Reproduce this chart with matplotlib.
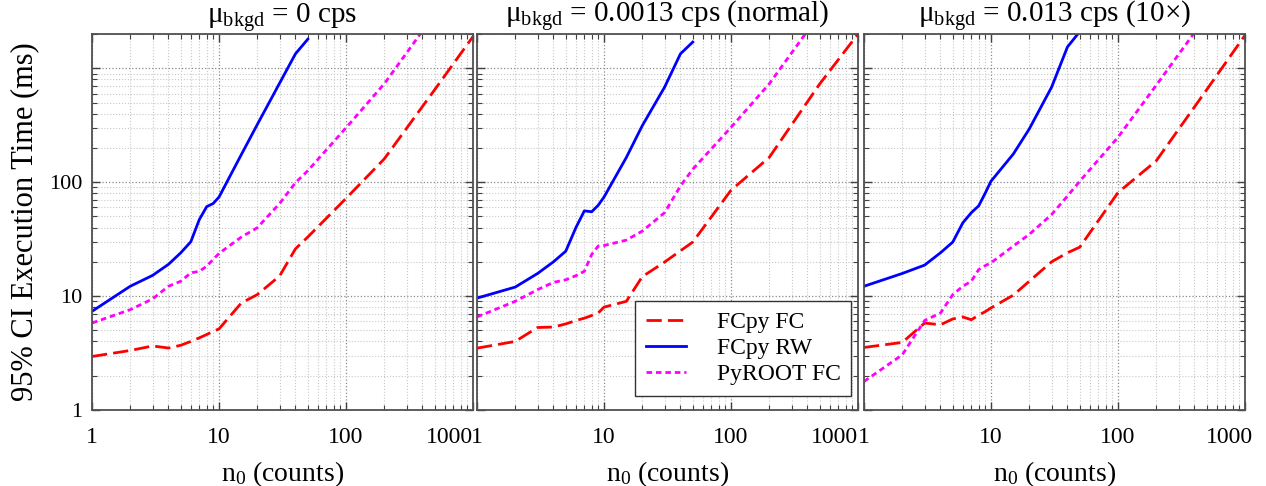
import matplotlib
matplotlib.use("Agg")
import matplotlib.pyplot as plt
from matplotlib.ticker import FixedLocator, FixedFormatter, LogLocator, NullFormatter
from matplotlib.transforms import ScaledTranslation

plt.rcParams["font.family"] = "Liberation Serif"
plt.rcParams["mathtext.fontset"] = "custom"
plt.rcParams["mathtext.rm"] = "Liberation Serif"
plt.rcParams["mathtext.it"] = "Liberation Serif:italic"

# counts n0 at which the CI was computed
n0 = [1, 2, 3, 4, 5, 6, 7, 8, 9, 10, 15, 20, 30, 40, 50, 100, 200, 500, 1000]
n0_rw = n0[:15]      # FCpy RW stops at 50
n0_root = n0[:18]    # PyROOT FC stops at 500

# execution times (ms), background = 0 cps
fc_0 = [2.95, 3.33, 3.65, 3.5, 3.7, 4.0, 4.3, 4.6, 4.9, 5.15, 8.7, 10.3, 15.0, 26.0, 33.0, 72, 160, 650, 1900]
rw_0 = [7.35, 12.2, 15.2, 19.0, 24.0, 30.0, 47.0, 61.0, 65.0, 74.0, 175, 320, 740, 1340, 1800]
root_0 = [5.8, 7.6, 9.45, 12.2, 13.5, 16.0, 16.5, 18.3, 21.0, 23.7, 33.0, 39.8, 65.0, 99.0, 126, 300, 730, 3000]

# background = 0.0013 cps (normal)
fc_1 = [3.49, 4.0, 5.3, 5.35, 5.7, 6.1, 6.4, 6.75, 7.1, 8.0, 9.0, 14.8, 19.9, 25.0, 29.8, 85, 165, 730, 2000]
rw_1 = [9.6, 12.0, 15.8, 20.0, 24.8, 39.8, 56.0, 55.0, 62.7, 74.0, 165, 313, 683, 1340, 1700]
root_1 = [6.56, 9.0, 11.4, 13.2, 13.9, 15.1, 16.5, 23.2, 27.5, 27.8, 31.0, 37.2, 54.0, 92.7, 130, 303, 730, 3000]

# background = 0.013 cps (10x)
fc_2 = [3.54, 3.92, 5.8, 5.6, 6.3, 6.56, 6.2, 6.8, 7.3, 7.87, 10.2, 13.5, 20.0, 24.0, 26.9, 81, 154, 650, 1950]
rw_2 = [12.2, 15.8, 18.7, 24.0, 29.8, 44.0, 54.0, 62.0, 80.0, 102, 177, 293, 683, 1540, 2100]
root_2 = [1.78, 3.05, 6.1, 7.1, 10.3, 12.2, 13.5, 17.1, 18.5, 19.6, 27.5, 34.8, 52.0, 75.6, 102, 248, 710, 2900]

titles = [r"μ$_{\mathrm{bkgd}}$ = 0 cps",
          r"μ$_{\mathrm{bkgd}}$ = 0.0013 cps (normal)",
          r"μ$_{\mathrm{bkgd}}$ = 0.013 cps (10×)"]
panels = [(fc_0, rw_0, root_0), (fc_1, rw_1, root_1), (fc_2, rw_2, root_2)]

fig = plt.figure(figsize=(12.66, 4.86), dpi=100)
lefts = [92, 477, 864]
axes = []
for i, lx in enumerate(lefts):
    sharey = axes[0] if axes else None
    ax = fig.add_axes([lx / 1266, 1 - 410 / 486, 381 / 1266, 376 / 486], sharey=sharey)
    axes.append(ax)

for i, ax in enumerate(axes):
    fc, rw, root = panels[i]
    ax.plot(n0, fc, color="#ff0000", lw=2, linestyle=(0, (5.5, 2.2)), label="FCpy FC")
    ax.plot(n0_rw, rw, color="#0000ff", lw=2, label="FCpy RW")
    ax.plot(n0_root, root, color="#ff00ff", lw=2, linestyle=(0, (2.0, 1.4)), label="PyROOT FC")

    ax.set_xscale("log")
    ax.set_yscale("log")
    ax.set_xlim(1, 1000)
    ax.set_ylim(1, 2000)

    ax.xaxis.set_major_locator(FixedLocator([1, 10, 100, 1000]))
    ax.xaxis.set_major_formatter(FixedFormatter(["1", "10", "100", "1000"]))
    ax.xaxis.set_minor_locator(LogLocator(base=10, subs=range(2, 10)))
    ax.xaxis.set_minor_formatter(NullFormatter())
    ax.yaxis.set_major_locator(FixedLocator([1, 10, 100, 1000]))
    ax.yaxis.set_major_formatter(FixedFormatter(["1", "10", "100", ""]))
    ax.yaxis.set_minor_locator(LogLocator(base=10, subs=range(2, 10)))
    ax.yaxis.set_minor_formatter(NullFormatter())

    ax.grid(which="major", color="#8a8a8a", linestyle=":", lw=0.9)
    ax.grid(which="minor", color="#c8c8c8", linestyle=":", lw=0.8)
    ax.set_axisbelow(True)

    ax.tick_params(which="both", direction="in", top=True, right=True,
                   colors="#404040", labelcolor="black")
    ax.tick_params(axis="x", labelsize=17, pad=12)
    ax.tick_params(axis="y", labelsize=16, pad=7)
    ax.tick_params(which="major", length=6, width=1)
    ax.tick_params(which="minor", length=3.5, width=0.8)
    for s in ax.spines.values():
        s.set_color("#505050")
        s.set_linewidth(1.3)

    if i > 0:
        ax.tick_params(labelleft=False)

    ax.set_title(titles[i], fontsize=21, pad=0)
    ax.set_xlabel(r"n$_0$ (counts)", fontsize=20, labelpad=8)

fig.canvas.draw()
# the last x label sits against the right edge
for i, ax in enumerate(axes):
    last = ax.get_xticklabels()[-1]
    if i < 2:
        last.set_horizontalalignment("right")
    else:
        last.set_transform(last.get_transform() + ScaledTranslation(-11 / 72, 0, fig.dpi_scale_trans))

axes[0].set_ylabel("95% CI Execution Time (ms)", fontsize=22, labelpad=7)

leg = axes[1].legend(loc="lower right", bbox_to_anchor=(0.982, 0.037), borderaxespad=0,
                     fontsize=17, handlelength=1.7, handletextpad=1.3, labelspacing=0.2,
                     borderpad=0.45, fancybox=False, framealpha=1, edgecolor="#333333")
leg.get_frame().set_linewidth(1.0)

fig.savefig("out.png", dpi=100)
